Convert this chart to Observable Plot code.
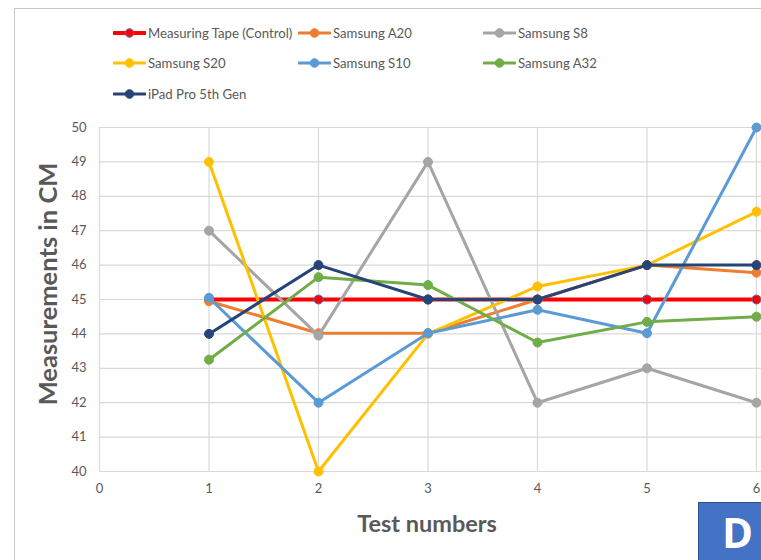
<!DOCTYPE html>
<html>
<head>
<meta charset="utf-8">
<script src="https://cdn.jsdelivr.net/npm/d3@7"></script>
<script src="https://cdn.jsdelivr.net/npm/@observablehq/plot@0.6"></script>
<style>
  html, body { margin: 0; padding: 0; background: #fff; }
  #wrap { position: relative; width: 761px; height: 560px; overflow: hidden; font-family: Lato, "Open Sans", sans-serif; }
  #border { position: absolute; left: 14px; top: 8px; right: -2px; bottom: -2px; border-left: 1.5px solid #c8c8c8; border-top: 1.5px solid #c8c8c8; }
  #chart { position: absolute; left: 0; top: 0; }
  .leg { position: absolute; display: flex; align-items: center; font-size: 13.2px; color: #595959; white-space: nowrap; }
  .leg svg { margin-right: 2px; }
  .title { position: absolute; font-weight: bold; color: #595959; white-space: nowrap; font-family: Lato, "Open Sans", sans-serif; line-height: 1; }
  #ytitle { left: 47.5px; top: 284px; font-size: 25.5px; transform: translate(-50%, -50%) rotate(-90deg); }
  #xtitle { left: 427px; top: 524px; font-size: 23.5px; transform: translate(-50%, -50%); }
  #dbox { position: absolute; left: 698px; top: 502px; width: 63px; height: 58px; background: #4472C4; border-left: 1px solid #2f528f; border-top: 1px solid #2f528f; box-sizing: border-box; }
  #dtext { position: absolute; left: 23px; top: 8px; color: #fff; font-weight: bold; font-size: 42px; font-family: "Open Sans", Lato, sans-serif; line-height: 1; }
</style>
</head>
<body>
<div id="wrap">
  <div id="border"></div>
  <div id="chart"></div>
  <div id="legend"></div>
  <div class="title" id="ytitle"></div>
  <div class="title" id="xtitle"></div>
  <div id="dbox"><span id="dtext">D</span></div>
</div>
<script>
const tests = [1, 2, 3, 4, 5, 6];
const seriesNames = ["Measuring Tape (Control)", "Samsung A20", "Samsung S8", "Samsung S20", "Samsung S10", "Samsung A32", "iPad Pro 5th Gen"];
const seriesColors = ["#FF0000", "#ED7D31", "#A5A5A5", "#FFC000", "#5B9BD5", "#70AD47", "#264478"];
const tape = [45, 45, 45, 45, 45, 45];
const a20 = [44.95, 44.02, 44.02, 45, 46, 45.78];
const s8 = [47, 43.95, 49, 42, 43, 42];
const s20 = [49, 40, 44, 45.38, 46, 47.55];
const s10 = [45.05, 42, 44.02, 44.7, 44.02, 50];
const a32 = [43.25, 45.65, 45.42, 43.75, 44.35, 44.5];
const ipad = [44, 46, 45, 45, 46, 46];
const yTicks = [40, 41, 42, 43, 44, 45, 46, 47, 48, 49, 50];
const xTicks = [0, 1, 2, 3, 4, 5, 6];
const xTitle = "Test numbers";
const yTitle = "Measurements in CM";

const seriesValues = [tape, a20, s8, s20, s10, a32, ipad];
const rows = [];
seriesNames.forEach((name, i) => {
  tests.forEach((t, j) => rows.push({series: name, test: t, value: seriesValues[i][j]}));
});

const seriesMarks = [];
seriesNames.forEach((name, i) => {
  const d = rows.filter(r => r.series === name);
  const isTape = i === 0;
  seriesMarks.push(Plot.line(d, {x: "test", y: "value", stroke: "series", strokeWidth: isTape ? 4 : 3, strokeLinejoin: "round", strokeLinecap: "round"}));
  seriesMarks.push(Plot.dot(d, {x: "test", y: "value", fill: "series", r: 4.5, stroke: isTape ? "#4472C4" : "series", strokeWidth: 1}));
});

const chart = Plot.plot({
  width: 761,
  height: 560,
  marginLeft: 99,
  marginRight: 5,
  marginTop: 127,
  marginBottom: 89,
  style: {fontFamily: "Lato, 'Open Sans', sans-serif", fontSize: "13px", color: "#595959", background: "transparent", overflow: "visible"},
  x: {domain: [0, 6]},
  y: {domain: [40, 50]},
  color: {domain: seriesNames, range: seriesColors},
  marks: [
    Plot.ruleY(yTicks, {y: d => d, x1: 0, x2: 6.06, stroke: "#D9D9D9", strokeWidth: 1.2}),
    Plot.ruleX(xTicks, {x: d => d, y1: 40, y2: 50, stroke: "#D9D9D9", strokeWidth: 1.2}),
    Plot.axisY({ticks: yTicks, tickSize: 0, tickPadding: 13, label: null}),
    Plot.axisX({ticks: xTicks, tickSize: 0, tickPadding: 12, label: null, tickFormat: d => String(d)}),
    ...seriesMarks
  ]
});
document.getElementById("chart").appendChild(chart);
document.getElementById("ytitle").textContent = yTitle;
document.getElementById("xtitle").textContent = xTitle;

// Legend
const legPos = [[113, 33], [298, 33], [483, 33], [113, 63], [298, 63], [483, 63], [113, 94]];
const legend = document.getElementById("legend");
seriesNames.forEach((name, i) => {
  const div = document.createElement("div");
  div.className = "leg";
  div.style.left = legPos[i][0] + "px";
  div.style.top = (legPos[i][1] - 8) + "px";
  div.style.height = "16px";
  const sw = i === 0 ? 4 : 3;
  const st = i === 0 ? "#4472C4" : seriesColors[i];
  div.innerHTML = `<svg width="33" height="16"><line x1="1" x2="32" y1="8" y2="8" stroke="${seriesColors[i]}" stroke-width="${sw}" stroke-linecap="round"/><circle cx="16.5" cy="8" r="4.3" fill="${seriesColors[i]}" stroke="${st}" stroke-width="1"/></svg><span>${name}</span>`;
  legend.appendChild(div);
});
</script>
</body>
</html>
